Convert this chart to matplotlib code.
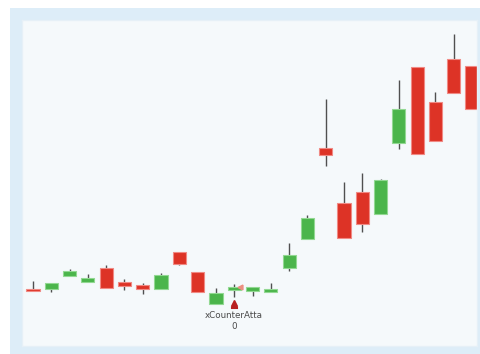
import matplotlib
matplotlib.use("Agg")
import matplotlib.pyplot as plt
from matplotlib.patches import Rectangle

# OHLC values (arbitrary price units)
opens  = [57, 57, 70, 64, 78, 64, 61, 57, 94, 74, 42, 56, 55, 54, 78, 107, 198, 143, 154, 132, 203, 279, 244, 287, 280]
closes = [55, 63, 75, 68, 58, 60, 57, 71, 82, 54, 53, 59, 59, 57, 91, 128, 191, 108, 122, 166, 237, 192, 205, 253, 237]
highs  = [65, 63, 77, 72, 81, 67, 63, 73, 94, 74, 58, 62, 59, 63, 103, 131, 247, 164, 173, 167, 266, 279, 254, 312, 280]
lows   = [55, 54, 70, 64, 58, 56, 52, 57, 81, 54, 42, 49, 50, 54, 75, 107, 180, 108, 114, 132, 197, 192, 205, 253, 237]

signal_index = 11
signal_label = "xCounterAtta\n0"

W, H = 481, 354
fig = plt.figure(figsize=(W / 100, H / 100), dpi=100, facecolor="white")
fig.patches.append(Rectangle((10 / W, 0), (W - 10) / W, (H - 8) / H,
                             transform=fig.transFigure, facecolor="#ddedf8",
                             edgecolor="none", zorder=-10))

ax = fig.add_axes([22 / W, (H - 346) / H, 455 / W, 326 / H])
ax.set_facecolor("#f5f9fb")
for s in ax.spines.values():
    s.set_color("#e6f0f7")
    s.set_linewidth(1)

red, red_edge = "#dd3326", "#f08a84"
green, green_edge = "#4bb54b", "#92d892"
bw = 0.72
for i, (o, c, h, l) in enumerate(zip(opens, closes, highs, lows)):
    up = c >= o
    ax.plot([i, i], [l, h], color="#505050", lw=1, zorder=1, solid_capstyle="butt")
    lo, hi = min(o, c), max(o, c)
    ax.add_patch(Rectangle((i - bw / 2, lo), bw, max(hi - lo, 1.5),
                           facecolor=green if up else red,
                           edgecolor=green_edge if up else red_edge,
                           lw=0.8, zorder=2))

# signal marker (up arrow with base)
ax.plot([signal_index, signal_index], [38.5, 43], color="#b82020", lw=2.2,
        solid_capstyle="butt", zorder=3)
ax.plot([signal_index], [43.5], marker="^", color="#b82020", ms=4.5, zorder=3)
ax.plot([signal_index - 0.14, signal_index + 0.14], [38.5, 38.5], color="#b82020", lw=1.5)
ax.plot([signal_index + 0.33], [59], marker="<", color="#ec8f80", ms=3.5, zorder=3)
ax.text(signal_index, 35, signal_label, ha="center", va="top", fontsize=6.3,
        color="#4a4a4a", linespacing=1.25, family="DejaVu Sans")

ax.set_xlim(-0.6, 24.27)
ax.set_ylim(0, 326)
ax.set_xticks([])
ax.set_yticks([])

fig.savefig("out.png", dpi=100, facecolor="white")
